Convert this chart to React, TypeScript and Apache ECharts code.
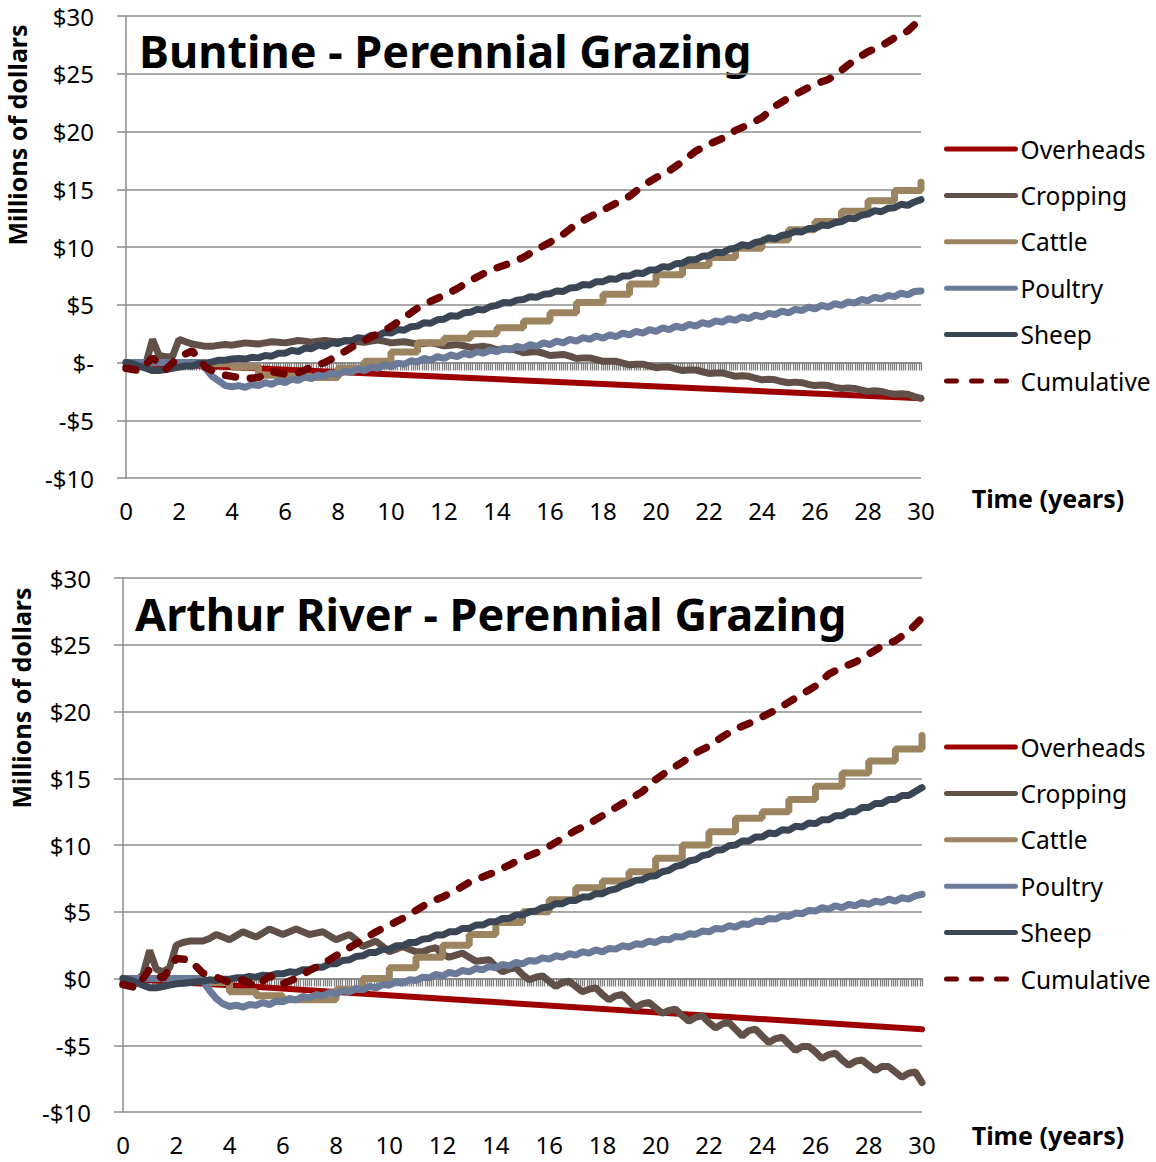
import React, { useEffect, useRef } from 'react';
import * as echarts from 'echarts';

const FONT = '"Noto Sans", "DejaVu Sans", sans-serif';

const seriesNames = ['Overheads', 'Cropping', 'Cattle', 'Poultry', 'Sheep', 'Cumulative'];
const seriesColors = ['#9E0000', '#615048', '#9C8460', '#6B7A99', '#3B4655', '#6E0000'];
const chartTitles = ['Buntine - Perennial Grazing', 'Arthur River - Perennial Grazing'];
const zeroLabels = ['$-', '$0'];
const yAxisTitle = 'Millions of dollars';
const xAxisTitle = 'Time (years)';

const overheadYears = [0, 30];
const buntineOverheads = [0, -3.1];
const arthurOverheads = [0, -3.8];

const buntineCropping = [
  -0.3, -0.3, -0.3, -0.1, 2.0, 0.6, 0.5, 0.5, 2.0, 1.8, 1.6, 1.5, 1.4, 1.4, 1.5, 1.55,
  1.5, 1.6, 1.7, 1.65, 1.6, 1.7, 1.8, 1.75, 1.7, 1.8, 1.9, 1.85, 1.75, 1.85, 1.9, 1.85,
  1.8, 1.85, 1.9, 1.8, 1.75, 1.85, 1.95, 1.85, 1.7, 1.75, 1.8, 1.7, 1.6, 1.65, 1.7, 1.6,
  1.45, 1.5, 1.55, 1.45, 1.3, 1.35, 1.4, 1.3, 1.1, 1.15, 1.2, 1.05, 0.85, 0.9, 0.95, 0.8,
  0.6, 0.65, 0.7, 0.55, 0.35, 0.4, 0.4, 0.25, 0.1, 0.1, 0.1, -0.05, -0.2, -0.15, -0.15, -0.3,
  -0.45, -0.4, -0.4, -0.55, -0.7, -0.65, -0.65, -0.8, -0.95, -0.9, -0.9, -1.05, -1.2, -1.15, -1.2, -1.35,
  -1.5, -1.45, -1.5, -1.65, -1.75, -1.7, -1.75, -1.9, -2.0, -1.95, -2.0, -2.15, -2.25, -2.2, -2.25, -2.4,
  -2.5, -2.45, -2.5, -2.65, -2.75, -2.7, -2.75, -2.95, -3.1,
];
const buntinePoultry = [
  0, 0, 0, 0, 0, 0, 0, 0, 0, 0, 0, 0, -0.5, -1.2, -1.6, -2.0,
  -2.1, -2.0, -2.15, -1.9, -2.0, -1.75, -1.9, -1.6, -1.75, -1.45, -1.55, -1.25, -1.4, -1.1, -1.2, -0.9,
  -1.05, -0.75, -0.85, -0.55, -0.7, -0.4, -0.5, -0.2, -0.35, -0.05, -0.15, 0.15, 0.05, 0.35, 0.2, 0.5,
  0.35, 0.65, 0.5, 0.8, 0.65, 0.95, 0.8, 1.1, 0.95, 1.25, 1.1, 1.4, 1.25, 1.55, 1.4, 1.7,
  1.55, 1.85, 1.7, 2.0, 1.85, 2.15, 2.0, 2.3, 2.1, 2.4, 2.25, 2.55, 2.4, 2.7, 2.55, 2.85,
  2.7, 3.0, 2.85, 3.15, 3.0, 3.3, 3.15, 3.45, 3.3, 3.6, 3.5, 3.8, 3.65, 3.95, 3.8, 4.1,
  3.95, 4.25, 4.15, 4.45, 4.3, 4.6, 4.5, 4.8, 4.65, 4.95, 4.8, 5.1, 4.95, 5.25, 5.15, 5.45,
  5.35, 5.65, 5.5, 5.8, 5.7, 6.0, 5.85, 6.15, 6.2,
];
const buntineSheep = [
  0, -0.1, -0.3, -0.5, -0.7, -0.7, -0.6, -0.5, -0.4, -0.3, -0.3, -0.1, -0.05, 0.05, 0.2, 0.2,
  0.3, 0.35, 0.3, 0.45, 0.4, 0.6, 0.55, 0.8, 0.8, 1.05, 0.95, 1.25, 1.2, 1.5, 1.4, 1.7,
  1.65, 1.9, 1.85, 2.15, 2.05, 2.35, 2.3, 2.6, 2.55, 2.85, 2.8, 3.1, 3.15, 3.45, 3.4, 3.7,
  3.75, 4.05, 4.0, 4.3, 4.35, 4.6, 4.55, 4.85, 4.95, 5.2, 5.15, 5.4, 5.45, 5.7, 5.65, 5.9,
  5.95, 6.2, 6.15, 6.45, 6.5, 6.75, 6.7, 7.0, 7.0, 7.25, 7.2, 7.5, 7.5, 7.75, 7.7, 8.0,
  8.0, 8.3, 8.25, 8.55, 8.6, 8.9, 8.9, 9.2, 9.25, 9.55, 9.5, 9.8, 9.9, 10.2, 10.1, 10.4,
  10.5, 10.8, 10.7, 11.0, 11.1, 11.35, 11.3, 11.6, 11.6, 11.9, 11.85, 12.1, 12.2, 12.5, 12.45, 12.75,
  12.85, 13.15, 13.05, 13.35, 13.4, 13.7, 13.6, 13.9, 14.1,
];
const buntineCattle = [
  0, 0, 0, -0.1, -0.4, -1.1, -1.2, -1.3, -0.5, 0.1,
  0.9, 1.7, 2.1, 2.5, 3.0, 3.6, 4.3, 5.2, 5.9, 6.8,
  7.6, 8.4, 9.1, 9.9, 10.6, 11.5, 12.2, 13.1, 14.0, 14.9,
  15.6,
];
const buntineCumulative = [
  -0.5, -0.7, 0.4, -0.6, 0.5, 1.0, -0.4, -1.0, -1.2, -1.4,
  -1.3, -0.8, -1.0, -0.9, -0.4, 0.0, 0.6, 1.3, 1.9, 2.5,
  3.1, 3.9, 4.7, 5.3, 5.8, 6.4, 7.1, 7.7, 8.2, 8.6,
  9.1, 9.8, 10.4, 11.1, 12.0, 12.6, 13.2, 13.8, 14.4, 15.3,
  16.0, 16.6, 17.4, 18.3, 18.9, 19.4, 20.1, 20.6, 21.2, 22.2,
  22.9, 23.5, 24.1, 24.5, 25.3, 26.2, 26.9, 27.4, 28.1, 28.7,
  29.8,
];

const arthurCropping = [
  -0.3, -0.3, -0.2, 0.3, 2.1, 0.7, 0.5, 0.8, 2.5, 2.7, 2.8, 2.8, 2.8, 3.0, 3.3, 3.1,
  2.9, 3.2, 3.5, 3.3, 3.1, 3.4, 3.7, 3.5, 3.3, 3.5, 3.7, 3.5, 3.3, 3.4, 3.5, 3.2,
  2.9, 3.1, 3.3, 2.9, 2.4, 2.6, 2.8, 2.4, 2.0, 2.2, 2.4, 2.2, 2.0, 2.0, 2.2, 2.3,
  1.8, 1.6, 1.75, 1.9, 1.6, 1.3, 1.35, 1.4, 0.9, 0.5, 0.7, 0.8, 0.3, -0.1, 0.1, 0.2,
  -0.2, -0.6, -0.3, -0.2, -0.6, -1.0, -0.8, -0.7, -1.2, -1.6, -1.3, -1.2, -1.7, -2.2, -1.9, -1.8,
  -2.2, -2.6, -2.4, -2.3, -2.8, -3.2, -2.9, -2.8, -3.3, -3.7, -3.4, -3.3, -3.8, -4.3, -3.9, -3.8,
  -4.3, -4.8, -4.5, -4.4, -4.9, -5.4, -5.1, -5.1, -5.5, -6.0, -5.7, -5.6, -6.1, -6.5, -6.2, -6.1,
  -6.5, -6.9, -6.6, -6.6, -7.0, -7.4, -7.1, -7.0, -7.8,
];
const arthurPoultry = [
  0, 0, 0, 0, 0, 0, 0, 0, 0, 0, 0, 0, -0.2, -0.9, -1.5, -1.9,
  -2.1, -2.0, -2.15, -1.95, -2.0, -1.8, -1.95, -1.7, -1.75, -1.5, -1.6, -1.35, -1.45, -1.2, -1.3, -1.05,
  -1.15, -0.9, -1.0, -0.75, -0.85, -0.6, -0.7, -0.45, -0.5, -0.25, -0.35, -0.1, -0.15, 0.1, 0.05, 0.3,
  0.2, 0.45, 0.35, 0.6, 0.5, 0.75, 0.65, 0.9, 0.8, 1.05, 0.95, 1.2, 1.1, 1.35, 1.3, 1.55,
  1.45, 1.7, 1.6, 1.85, 1.75, 2.0, 1.9, 2.15, 2.0, 2.25, 2.2, 2.45, 2.35, 2.6, 2.55, 2.8,
  2.7, 2.95, 2.9, 3.15, 3.1, 3.35, 3.3, 3.55, 3.5, 3.75, 3.7, 3.95, 3.85, 4.1, 4.05, 4.3,
  4.25, 4.5, 4.45, 4.7, 4.65, 4.9, 4.85, 5.1, 5.05, 5.3, 5.2, 5.45, 5.3, 5.55, 5.45, 5.7,
  5.55, 5.8, 5.7, 5.95, 5.8, 6.05, 5.95, 6.2, 6.3,
];
const arthurSheep = [
  0, -0.1, -0.3, -0.5, -0.7, -0.7, -0.6, -0.5, -0.4, -0.35, -0.3, -0.25, -0.2, -0.1, -0.15, -0.05,
  -0.05, 0.05, 0.05, 0.15, 0.1, 0.25, 0.2, 0.35, 0.35, 0.5, 0.45, 0.65, 0.65, 0.85, 0.85, 1.1,
  1.1, 1.35, 1.4, 1.65, 1.7, 1.95, 1.95, 2.2, 2.2, 2.45, 2.45, 2.7, 2.7, 2.95, 3.0, 3.25,
  3.25, 3.5, 3.5, 3.75, 3.75, 4.0, 4.0, 4.25, 4.25, 4.5, 4.5, 4.75, 4.75, 5.0, 5.05, 5.3,
  5.35, 5.6, 5.6, 5.85, 5.85, 6.1, 6.1, 6.35, 6.35, 6.6, 6.7, 6.95, 7.1, 7.35, 7.4, 7.65,
  7.7, 8.0, 8.1, 8.4, 8.5, 8.8, 8.9, 9.2, 9.3, 9.6, 9.65, 9.95, 10.0, 10.3, 10.3, 10.6,
  10.6, 10.9, 10.85, 11.15, 11.1, 11.4, 11.35, 11.65, 11.6, 11.9, 11.9, 12.2, 12.2, 12.5, 12.5, 12.8,
  12.8, 13.1, 13.1, 13.4, 13.4, 13.7, 13.7, 14.0, 14.3,
];
const arthurCattle = [
  0, 0, 0, -0.3, -1.0, -1.3, -1.6, -1.6, -0.8, 0.0,
  0.8, 1.6, 2.5, 3.3, 4.2, 5.0, 5.9, 6.8, 7.3, 8.0,
  9.0, 10.0, 11.0, 12.0, 12.5, 13.4, 14.4, 15.4, 16.3, 17.2,
  18.2,
];
const arthurCumulative = [
  -0.45, -0.7, 0.7, 0.0, 1.5, 1.4, 0.4, 0.1, -0.3, -0.1,
  -0.6, 0.2, -0.4, 0.0, 0.6, 1.1, 1.7, 2.3, 2.9, 3.5,
  4.0, 4.5, 5.1, 5.7, 6.1, 6.6, 7.2, 7.6, 8.0, 8.5,
  9.0, 9.4, 9.9, 10.5, 11.1, 11.6, 12.2, 12.8, 13.4, 14.0,
  14.9, 15.6, 16.2, 16.9, 17.4, 18.1, 18.7, 19.1, 19.6, 20.1,
  20.7, 21.3, 21.9, 22.8, 23.3, 23.7, 24.3, 24.9, 25.3, 26.0,
  27.0,
];

const months = Array.from({ length: 360 }, (_, i) => String(i + 1));

type Panel = {
  overheads: number[];
  cropping: number[];
  cattle: number[];
  poultry: number[];
  sheep: number[];
  cumulative: number[];
};

const panels: Panel[] = [
  { overheads: buntineOverheads, cropping: buntineCropping, cattle: buntineCattle, poultry: buntinePoultry, sheep: buntineSheep, cumulative: buntineCumulative },
  { overheads: arthurOverheads, cropping: arthurCropping, cattle: arthurCattle, poultry: arthurPoultry, sheep: arthurSheep, cumulative: arthurCumulative },
];

const grids = [
  { left: 126, top: 16, width: 795, height: 462 },
  { left: 123, top: 578, width: 799, height: 534 },
];
const legendTops = [134, 732];
const titlePos = [
  { x: 139, y: 50 },
  { x: 135, y: 613 },
];
const yNamePos = [
  { x: 17, y: 135 },
  { x: 21, y: 698 },
];
const xNameY = [498, 1135];
const GRID_COLOR = '#8C8C8C';
const LINE_W = 7;

function withStep(values: number[], step: number) {
  return values.map((v, i) => [i * step, v]);
}

function buildOption() {
  const xAxis: any[] = [];
  const yAxis: any[] = [];
  const series: any[] = [];
  const legend: any[] = [];
  const graphic: any[] = [];

  panels.forEach((p, gi) => {
    xAxis.push({
      type: 'value', gridIndex: gi, min: 0, max: 30, interval: 2, position: 'bottom',
      axisLine: { show: false, onZero: false }, axisTick: { show: false }, splitLine: { show: false },
      axisLabel: { fontSize: 24, color: '#000', fontFamily: FONT, margin: 20 },
    });
    xAxis.push({
      type: 'category', gridIndex: gi, data: months, position: 'bottom', boundaryGap: true,
      axisLine: { show: true, onZero: true, onZeroAxisIndex: gi, lineStyle: { color: GRID_COLOR, width: 1.5 } },
      axisTick: { show: true, interval: 0, length: 8, lineStyle: { color: '#808080', width: 1.3 } },
      axisLabel: { show: false }, splitLine: { show: false },
    });
    yAxis.push({
      type: 'value', gridIndex: gi, min: -10, max: 30, interval: 5,
      axisLine: { show: true, onZero: false, lineStyle: { color: GRID_COLOR, width: 1.5 } },
      axisTick: { show: true, length: 9, lineStyle: { color: GRID_COLOR, width: 1.5 } },
      splitLine: { show: true, lineStyle: { color: GRID_COLOR, width: 1.5 } },
      axisLabel: {
        fontSize: 24, color: '#000', fontFamily: FONT, margin: 32,
        formatter: (v: number) => (v === 0 ? zeroLabels[gi] : v < 0 ? '-$' + Math.abs(v) : '$' + v),
      },
    });

    const xi = gi * 2;
    const common = { type: 'line', xAxisIndex: xi, yAxisIndex: gi, symbol: 'none', showSymbol: false, silent: true };
    const ls = (i: number) => ({ color: seriesColors[i], width: LINE_W, cap: 'round' });
    series.push({ ...common, name: seriesNames[0], data: p.overheads.map((v, i) => [overheadYears[i], v]), lineStyle: { color: seriesColors[0], width: 6, cap: 'round' }, itemStyle: { color: seriesColors[0] } });
    series.push({ ...common, name: seriesNames[1], data: withStep(p.cropping, 0.25), lineStyle: ls(1), itemStyle: { color: seriesColors[1] } });
    series.push({ ...common, name: seriesNames[2], step: 'end', data: withStep(p.cattle, 1), lineStyle: ls(2), itemStyle: { color: seriesColors[2] } });
    series.push({ ...common, name: seriesNames[3], data: withStep(p.poultry, 0.25), lineStyle: ls(3), itemStyle: { color: seriesColors[3] } });
    series.push({ ...common, name: seriesNames[4], data: withStep(p.sheep, 0.25), lineStyle: ls(4), itemStyle: { color: seriesColors[4] } });
    series.push({ ...common, name: seriesNames[5], data: withStep(p.cumulative, 0.5), lineStyle: { ...ls(5), width: 7.5, type: [10, 15] }, itemStyle: { color: seriesColors[5] } });

    legend.push({
      data: seriesNames, orient: 'vertical', left: 944, top: legendTops[gi], padding: 0,
      itemWidth: 69, itemHeight: 10, itemGap: 16.4, selectedMode: false,
      itemStyle: { opacity: 0 }, lineStyle: { width: 5, cap: 'round' },
      textStyle: { fontSize: 24.5, color: '#000', fontFamily: FONT, lineHeight: 30 },
    });

    graphic.push({ type: 'text', x: titlePos[gi].x, y: titlePos[gi].y, style: { text: chartTitles[gi], fill: '#000', font: `bold 45px ${FONT}`, align: 'left', verticalAlign: 'middle' } });
    graphic.push({ type: 'text', x: yNamePos[gi].x, y: yNamePos[gi].y, rotation: Math.PI / 2, style: { text: yAxisTitle, fill: '#000', font: `bold 25px ${FONT}`, align: 'center', verticalAlign: 'middle' } });
    graphic.push({ type: 'text', x: 1048, y: xNameY[gi], style: { text: xAxisTitle, fill: '#000', font: `bold 25px ${FONT}`, align: 'center', verticalAlign: 'middle' } });
  });

  return { animation: false, backgroundColor: '#ffffff', grid: grids, xAxis, yAxis, legend, series, graphic };
}

export default function App() {
  const ref = useRef<HTMLDivElement>(null);
  useEffect(() => {
    if (!ref.current) return;
    const chart = echarts.init(ref.current, undefined, { renderer: 'svg' });
    chart.setOption(buildOption() as any);
    return () => chart.dispose();
  }, []);
  return <div ref={ref} style={{ position: 'absolute', left: 0, top: 0, width: 1156, height: 1162, background: '#fff' }} />;
}
